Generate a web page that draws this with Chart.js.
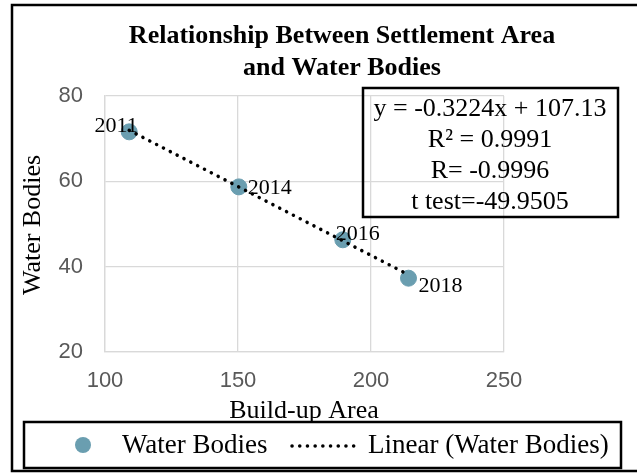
<!DOCTYPE html>
<html>
<head>
<meta charset="utf-8">
<script src="https://cdn.jsdelivr.net/npm/chart.js@4.4.0/dist/chart.umd.min.js"></script>
<style>
  body { margin: 0; background: #fff; }
</style>
</head>
<body>
<canvas id="chartWater" width="637" height="476"></canvas>
<script>
// data
const years = ['2011', '2014', '2016', '2018'];
const buildUp = [109.1, 150.3, 189.4, 214.1];
const waterBodies = [71.6, 58.7, 46.3, 37.3];
const xTicks = [100, 150, 200, 250];
const yTicks = [20, 40, 60, 80];
const trendSlope = -0.3224;
const trendIntercept = 107.13;
const statLines = ['y = -0.3224x + 107.13', 'R\u00b2 = 0.9991', 'R= -0.9996', 't test=-49.9505'];

const pointColor = '#6a9eb0';
const serif = '"Liberation Serif", "Times New Roman", serif';

const xMin = Math.min(...buildUp), xMax = Math.max(...buildUp);
const trend = [
    { x: xMin, y: trendSlope * xMin + trendIntercept },
    { x: xMax, y: trendSlope * xMax + trendIntercept },
];

// label offsets from each point (px)
const labelOffsets = [[-13, -6], [31, 1], [15, -6], [32, 8]];

const decor = {
    id: 'decor',
    beforeDraw(chart) {
        const c = chart.ctx;
        c.save();
        c.fillStyle = '#fff';
        c.fillRect(0, 0, chart.width, chart.height);
        c.restore();
    },
    afterDatasetsDraw(chart) {
        const c = chart.ctx;
        const pts = chart.getDatasetMeta(0).data;
        c.save();
        c.fillStyle = '#000';
        c.font = '22px ' + serif;
        c.textAlign = 'center';
        c.textBaseline = 'middle';
        pts.forEach((p, i) => {
            c.fillText(years[i], p.x + labelOffsets[i][0], p.y + labelOffsets[i][1]);
        });
        c.restore();
    },
    afterDraw(chart) {
        const c = chart.ctx;
        c.save();
        c.strokeStyle = '#000';
        c.lineWidth = 2.5;
        // outer frame
        c.strokeRect(12, 5, 640, 466);

        // title
        c.fillStyle = '#000';
        c.textAlign = 'center';
        c.textBaseline = 'middle';
        c.font = 'bold 26px ' + serif;
        c.fillText('Relationship Between Settlement Area', 342, 36);
        c.fillText('and Water Bodies', 342, 68);

        // axis titles
        c.font = '26px ' + serif;
        c.fillText('Build-up Area', 304, 411);
        c.save();
        c.translate(33, 225);
        c.rotate(-Math.PI / 2);
        c.fillText('Water Bodies', 0, 0);
        c.restore();

        // regression box
        c.strokeRect(363, 88, 255, 129);
        statLines.forEach((t, i) => c.fillText(t, 490, 109 + i * 31));

        // legend
        c.strokeRect(24, 422, 597, 46);
        c.fillStyle = pointColor;
        c.beginPath();
        c.arc(83, 445, 8, 0, Math.PI * 2);
        c.fill();
        c.fillStyle = '#000';
        c.textAlign = 'left';
        c.font = '27px ' + serif;
        c.fillText('Water Bodies', 122, 446);
        c.fillText('Linear (Water Bodies)', 368, 446);
        c.lineWidth = 3.5;
        c.lineCap = 'round';
        c.setLineDash([0.1, 7.6]);
        c.beginPath();
        c.moveTo(292, 446);
        c.lineTo(354, 446);
        c.stroke();
        c.restore();
    }
};

new Chart(document.getElementById('chartWater'), {
    type: 'scatter',
    data: {
        datasets: [
            {
                label: 'Water Bodies',
                data: buildUp.map((x, i) => ({ x: x, y: waterBodies[i] })),
                backgroundColor: pointColor,
                borderColor: pointColor,
                pointRadius: 8,
                order: 2,
            },
            {
                label: 'Linear (Water Bodies)',
                type: 'line',
                data: trend,
                borderColor: '#000',
                borderWidth: 3.5,
                borderDash: [0.1, 7.6],
                borderCapStyle: 'round',
                pointRadius: 0,
                fill: false,
                order: 1,
            },
        ],
    },
    options: {
        responsive: false,
        animation: false,
        devicePixelRatio: 1,
        layout: { padding: { left: 12, top: 96, right: 133, bottom: 0 } },
        plugins: {
            legend: { display: false },
            title: { display: false },
            tooltip: { enabled: false },
        },
        scales: {
            x: {
                type: 'linear',
                min: xTicks[0],
                max: xTicks[xTicks.length - 1],
                afterBuildTicks: (s) => { s.ticks = xTicks.map(v => ({ value: v })); },
                afterFit: (s) => { s.height = 124; },
                grid: { color: '#d9d9d9', lineWidth: 1.3, drawTicks: false },
                border: { color: '#d9d9d9', width: 1.3 },
                ticks: {
                    padding: 16,
                    color: '#595959',
                    font: { family: '"Liberation Sans", Arial, sans-serif', size: 22 },
                },
            },
            y: {
                type: 'linear',
                min: yTicks[0],
                max: yTicks[yTicks.length - 1],
                afterBuildTicks: (s) => { s.ticks = yTicks.map(v => ({ value: v })); },
                afterFit: (s) => { s.width = 93; },
                grid: { color: '#d9d9d9', lineWidth: 1.3, drawTicks: false },
                border: { color: '#d9d9d9', width: 1.3 },
                ticks: {
                    padding: 22,
                    color: '#595959',
                    font: { family: '"Liberation Sans", Arial, sans-serif', size: 22 },
                },
            },
        },
    },
    plugins: [decor],
});
</script>
</body>
</html>
